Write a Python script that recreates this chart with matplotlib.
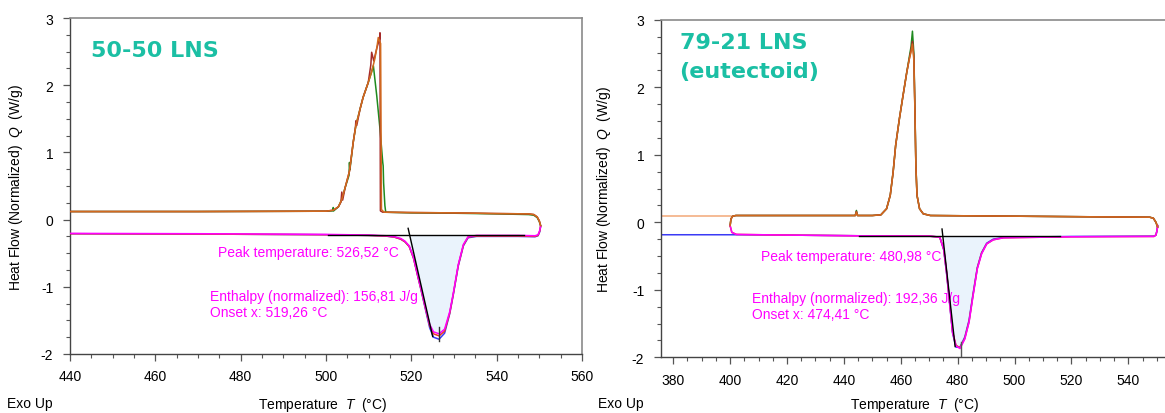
import numpy as np
import matplotlib
matplotlib.use("Agg")
import matplotlib.pyplot as plt
from matplotlib.ticker import MultipleLocator

plt.rcParams['font.family'] = ['Liberation Sans', 'DejaVu Sans']
plt.rcParams['font.size'] = 10
plt.rcParams['axes.unicode_minus'] = False
plt.rcParams['mathtext.fontset'] = 'custom'
plt.rcParams['mathtext.it'] = 'Liberation Sans:italic'
plt.rcParams['mathtext.rm'] = 'Liberation Sans'

# --- Left panel: 50-50 LNS ---
left_cool_T = [440, 470, 500, 501.7, 502.9, 503.7, 504.5, 505.5, 506.4, 507.0, 508.0, 508.7,
               509.9, 510.7, 511.4, 511.9, 512.25, 512.8, 513.0, 513.6, 520, 530, 540, 547.5,
               548.7, 549.5, 550.0, 550.3]
left_orange_Q = [0.12, 0.12, 0.125, 0.14, 0.19, 0.30, 0.48, 0.72, 1.16, 1.40, 1.65, 1.82,
                 2.04, 2.20, 2.38, 2.55, 2.71, 2.62, 0.15, 0.11, 0.105, 0.10, 0.09, 0.085,
                 0.075, 0.04, -0.02, -0.09]
left_brown_T = [440, 470, 500, 501.7, 502.9, 503.5, 503.7, 503.9, 504.5, 505.5, 506.4, 506.9,
                507.0, 507.2, 508.0, 508.7, 509.9, 510.5, 510.7, 511.2, 511.9, 512.6, 512.65,
                512.75, 513.3, 520, 530, 540, 547.5, 548.7, 549.5, 550.0, 550.3]
left_brown_Q = [0.12, 0.12, 0.125, 0.14, 0.19, 0.26, 0.41, 0.29, 0.48, 0.72, 1.16, 1.37,
                1.47, 1.40, 1.65, 1.82, 2.04, 2.30, 2.49, 2.36, 2.55, 2.70, 2.78,
                0.13, 0.11, 0.105, 0.10, 0.09, 0.085, 0.075, 0.04, -0.02, -0.09]
left_green_T = [440, 470, 500, 501.6, 501.7, 501.8, 502.9, 503.7, 504.5, 505.4, 505.5, 505.6,
                506.4, 507.0, 508.0, 508.7, 509.9, 510.6, 511.1, 511.9, 512.65, 513.3, 513.4,
                513.5, 513.8, 514.0, 520, 530, 540, 547.5, 548.7, 549.5, 550.0, 550.3]
left_green_Q = [0.12, 0.12, 0.125, 0.13, 0.18, 0.13, 0.19, 0.30, 0.48, 0.66, 0.85, 0.74,
                1.16, 1.40, 1.65, 1.82, 2.04, 2.18, 2.29, 1.84, 1.35, 0.85, 0.80,
                0.55, 0.21, 0.11, 0.10, 0.095, 0.085, 0.075, 0.065, 0.03, -0.03, -0.09]

left_heat_T = [440, 470, 500, 510, 514, 516, 517.5, 518.5, 519.5, 520.5, 521.5, 522.5, 523.5,
               524.3, 525.2, 526.5, 527.8, 529.0, 529.8, 531.0, 532.2, 533.3, 535.3, 545,
               549.0, 549.7, 550.1, 550.3]
left_blue_Q = [-0.21, -0.215, -0.225, -0.235, -0.245, -0.26, -0.29, -0.33, -0.40, -0.57, -0.84,
               -1.11, -1.39, -1.61, -1.75, -1.78, -1.69, -1.40, -1.13, -0.69, -0.39, -0.27,
               -0.25, -0.25, -0.255, -0.24, -0.18, -0.10]
left_red_Q = [-0.21, -0.215, -0.225, -0.235, -0.245, -0.26, -0.29, -0.33, -0.40, -0.57, -0.84,
              -1.10, -1.37, -1.58, -1.70, -1.73, -1.66, -1.39, -1.12, -0.68, -0.38, -0.26,
              -0.245, -0.245, -0.25, -0.235, -0.17, -0.10]
left_magenta_Q = [-0.205, -0.21, -0.22, -0.23, -0.24, -0.255, -0.28, -0.32, -0.39, -0.56, -0.83,
                  -1.09, -1.36, -1.56, -1.67, -1.70, -1.63, -1.37, -1.11, -0.67, -0.37, -0.255,
                  -0.235, -0.235, -0.24, -0.225, -0.16, -0.10]

left_base_T = [500.4, 546.4]
left_base_Q = [-0.225, -0.225]
left_tangent_T = [519.25, 525.0]
left_tangent_Q = [-0.13, -1.74]
left_peak_T = 526.5
left_peak_Q = [-1.60, -1.80]
left_fill_range = (519.3, 534.5)

# --- Right panel: 79-21 LNS (eutectoid) ---
right_cool_T = [400.0, 400.3, 400.9, 402, 420, 444.0, 444.4, 444.8, 450, 453.0, 455.0, 456.3,
                457.3, 458.2, 459.5, 460.8, 462.1, 463.0, 463.6, 464.1, 464.6, 465.0, 465.3,
                465.7, 466.6, 467.9, 470.4, 500, 530, 547.5, 548.8, 549.7, 550.3]
right_orange_Q = [-0.05, 0.05, 0.09, 0.1, 0.1, 0.1, 0.15, 0.1, 0.1, 0.11, 0.2, 0.4,
                  0.74, 1.14, 1.53, 1.88, 2.22, 2.42, 2.52, 2.64, 2.40, 1.58, 0.84,
                  0.40, 0.20, 0.125, 0.10, 0.09, 0.08, 0.075, 0.06, 0.0, -0.07]
right_brown_Q = [-0.05, 0.05, 0.09, 0.1, 0.1, 0.1, 0.16, 0.1, 0.1, 0.11, 0.2, 0.4,
                 0.74, 1.14, 1.53, 1.88, 2.22, 2.42, 2.55, 2.68, 2.45, 1.60, 0.85,
                 0.40, 0.20, 0.125, 0.10, 0.09, 0.08, 0.075, 0.06, 0.0, -0.07]
right_green_Q = [-0.05, 0.05, 0.09, 0.1, 0.1, 0.1, 0.175, 0.1, 0.1, 0.11, 0.2, 0.4,
                 0.74, 1.14, 1.53, 1.88, 2.22, 2.45, 2.60, 2.83, 2.50, 1.62, 0.86,
                 0.40, 0.20, 0.125, 0.10, 0.09, 0.08, 0.075, 0.06, 0.0, -0.07]
right_pre_T = [375.7, 400.3]
right_pre_cool_Q = [0.1, 0.1]

right_heat_T = [400.0, 400.6, 402.2, 420, 445, 470, 473.7, 475.1, 476.1, 477.3, 478.2, 479.4,
                480.8, 482.5, 484.0, 485.4, 486.9, 488.4, 490.2, 492.5, 496, 520, 549.0,
                549.7, 550.1, 550.3]
right_magenta_Q = [-0.05, -0.15, -0.18, -0.19, -0.2, -0.205, -0.22, -0.40, -0.74, -1.24, -1.63,
                   -1.83, -1.87, -1.73, -1.48, -1.09, -0.69, -0.47, -0.32, -0.26, -0.23, -0.215,
                   -0.21, -0.19, -0.12, -0.05]
right_red_Q = [-0.05, -0.15, -0.18, -0.19, -0.2, -0.205, -0.22, -0.40, -0.74, -1.24, -1.62,
               -1.82, -1.86, -1.72, -1.47, -1.08, -0.68, -0.46, -0.32, -0.26, -0.23, -0.215,
               -0.21, -0.19, -0.12, -0.05]
right_blue_T = [375.7, 402.2, 420, 445, 470, 473.7, 475.1, 476.1, 477.3, 478.2, 479.4,
                480.8, 482.5, 484.0, 485.4, 486.9, 488.4, 490.2, 492.5, 496, 520, 549.0,
                549.7, 550.1, 550.3]
right_blue_Q = [-0.185, -0.185, -0.19, -0.2, -0.205, -0.22, -0.41, -0.76, -1.26, -1.64,
                -1.85, -1.85, -1.70, -1.45, -1.06, -0.67, -0.45, -0.31, -0.25, -0.225, -0.21,
                -0.205, -0.19, -0.12, -0.05]

right_base_T = [445.3, 515.9]
right_base_Q = [-0.205, -0.205]
right_tangent_T = [474.5, 479.1]
right_tangent_Q = [-0.10, -1.84]
right_peak_T = 481.0
right_peak_Q = [-1.78, -1.98]
right_fill_range = (474.3, 497)

GREEN = '#1f8a1f'
BROWN = '#a52a2a'
ORANGE = '#d2691e'
LIGHT_ORANGE = '#f2a878'
BLUE = '#3b3bf5'
RED = '#ee3a22'
MAGENTA = '#ff00ff'
FILL = '#eaf3fc'
TEAL = '#1bbfa4'

fig = plt.figure(figsize=(11.65, 4.14), dpi=100)
W, H = 1165, 414

ax1 = fig.add_axes([70 / W, 1 - 355 / H, 512 / W, 336 / H])
ax2 = fig.add_axes([661 / W, 1 - 358.3 / H, 510 / W, 337.6 / H])


def style_axes(ax, xlim, xmajor):
    ax.set_xlim(*xlim)
    ax.set_ylim(-2, 3)
    ax.xaxis.set_major_locator(MultipleLocator(xmajor))
    ax.xaxis.set_minor_locator(MultipleLocator(5))
    ax.yaxis.set_major_locator(MultipleLocator(1))
    ax.yaxis.set_minor_locator(MultipleLocator(0.25))
    ax.tick_params(which='major', direction='out', length=5, width=0.9, color='#555555',
                   labelsize=10, pad=6)
    ax.tick_params(which='minor', direction='out', length=3, width=0.8, color='#555555')
    ax.tick_params(axis='y', pad=7)
    for side in ['left', 'bottom']:
        ax.spines[side].set_color('#444444')
        ax.spines[side].set_linewidth(1.0)
    for side in ['top', 'right']:
        ax.spines[side].set_color('#8a8a8a')
        ax.spines[side].set_linewidth(1.2)
    ax.set_xlabel(r"Temperature  $\mathit{T}$  (°C)", fontsize=10)
    ax.set_ylabel(r"Heat Flow (Normalized)  $\mathit{Q}$  (W/g)", fontsize=10)


lw = 1.1

# left panel
style_axes(ax1, (440, 560), 20)
T = np.array(left_heat_T)
fq = np.array(left_magenta_Q)
mask = (T >= left_fill_range[0]) & (T <= left_fill_range[1])
ax1.fill_between(T, fq, left_base_Q[0], where=mask, color=FILL, lw=0, zorder=1)
ax1.plot(left_heat_T, left_blue_Q, color=BLUE, lw=lw, zorder=2)
ax1.plot(left_heat_T, left_red_Q, color=RED, lw=lw, zorder=3)
ax1.plot(left_heat_T, left_magenta_Q, color=MAGENTA, lw=lw, zorder=4)
ax1.plot(left_green_T, left_green_Q, color=GREEN, lw=lw, zorder=2)
ax1.plot(left_brown_T, left_brown_Q, color=BROWN, lw=lw, zorder=3)
ax1.plot(left_cool_T, left_orange_Q, color=ORANGE, lw=lw, zorder=4)
ax1.plot(left_base_T, left_base_Q, color='black', lw=1.0, zorder=5)
ax1.plot(left_tangent_T, left_tangent_Q, color='black', lw=1.0, zorder=5)
ax1.plot([left_peak_T, left_peak_T], left_peak_Q, color='#333333', lw=1.0, zorder=5)
ax1.text(474.7, -0.48, "Peak temperature: 526,52 °C", color=MAGENTA, fontsize=10, va='center')
ax1.text(472.7, -1.14, "Enthalpy (normalized): 156,81 J/g", color=MAGENTA, fontsize=10, va='center')
ax1.text(472.7, -1.375, "Onset x: 519,26 °C", color=MAGENTA, fontsize=10, va='center')
ax1.text((91 - 70) / 512, 1 - (50.6 - 19) / 336, "50-50 LNS", transform=ax1.transAxes,
         color=TEAL, fontsize=16, fontweight='bold', family='DejaVu Sans', va='center')
ax1.xaxis.set_label_coords((323 - 70) / 512, -(396 - 355) / 336)
ax1.yaxis.set_label_coords((25 - 70) / 512, 0.5)

# right panel
style_axes(ax2, (375.7, 555.0), 20)
ax2.spines['right'].set_visible(False)
T = np.array(right_heat_T)
fq = np.array(right_magenta_Q)
mask = (T >= right_fill_range[0]) & (T <= right_fill_range[1])
ax2.fill_between(T, fq, right_base_Q[0], where=mask, color=FILL, lw=0, zorder=1)
ax2.plot(right_pre_T, right_pre_cool_Q, color=LIGHT_ORANGE, lw=lw, zorder=2)
ax2.plot(right_blue_T, right_blue_Q, color=BLUE, lw=lw, zorder=2)
ax2.plot(right_heat_T, right_red_Q, color=RED, lw=lw, zorder=3)
ax2.plot(right_heat_T, right_magenta_Q, color=MAGENTA, lw=lw, zorder=4)
ax2.plot(right_cool_T, right_green_Q, color=GREEN, lw=lw, zorder=2)
ax2.plot(right_cool_T, right_brown_Q, color=BROWN, lw=lw, zorder=3)
ax2.plot(right_cool_T, right_orange_Q, color=ORANGE, lw=lw, zorder=4)
ax2.plot(right_base_T, right_base_Q, color='black', lw=1.0, zorder=5)
ax2.plot(right_tangent_T, right_tangent_Q, color='black', lw=1.0, zorder=5)
ax2.plot([right_peak_T, right_peak_T], right_peak_Q, color='#555555', lw=1.0, zorder=5)
ax2.text(410.8, -0.50, "Peak temperature: 480,98 °C", color=MAGENTA, fontsize=10, va='center')
ax2.text(407.6, -1.12, "Enthalpy (normalized): 192,36 J/g", color=MAGENTA, fontsize=10, va='center')
ax2.text(407.6, -1.36, "Onset x: 474,41 °C", color=MAGENTA, fontsize=10, va='center')
ax2.text((679.5 - 661) / 510, 1 - (42.7 - 20.7) / 337.6, "79-21 LNS", transform=ax2.transAxes,
         color=TEAL, fontsize=16, fontweight='bold', family='DejaVu Sans', va='center')
ax2.text((679.5 - 661) / 510, 1 - (71.6 - 20.7) / 337.6, "(eutectoid)", transform=ax2.transAxes,
         color=TEAL, fontsize=16, fontweight='bold', family='DejaVu Sans', va='center')
ax2.xaxis.set_label_coords((915 - 661) / 510, -(396.5 - 358.3) / 337.6)
ax2.yaxis.set_label_coords((613 - 661) / 510, 0.5)

fig.text(7 / W, 1 - 404 / H, "Exo Up", fontsize=10, va='center')
fig.text(598 / W, 1 - 404 / H, "Exo Up", fontsize=10, va='center')

fig.savefig("out.png", dpi=100)
